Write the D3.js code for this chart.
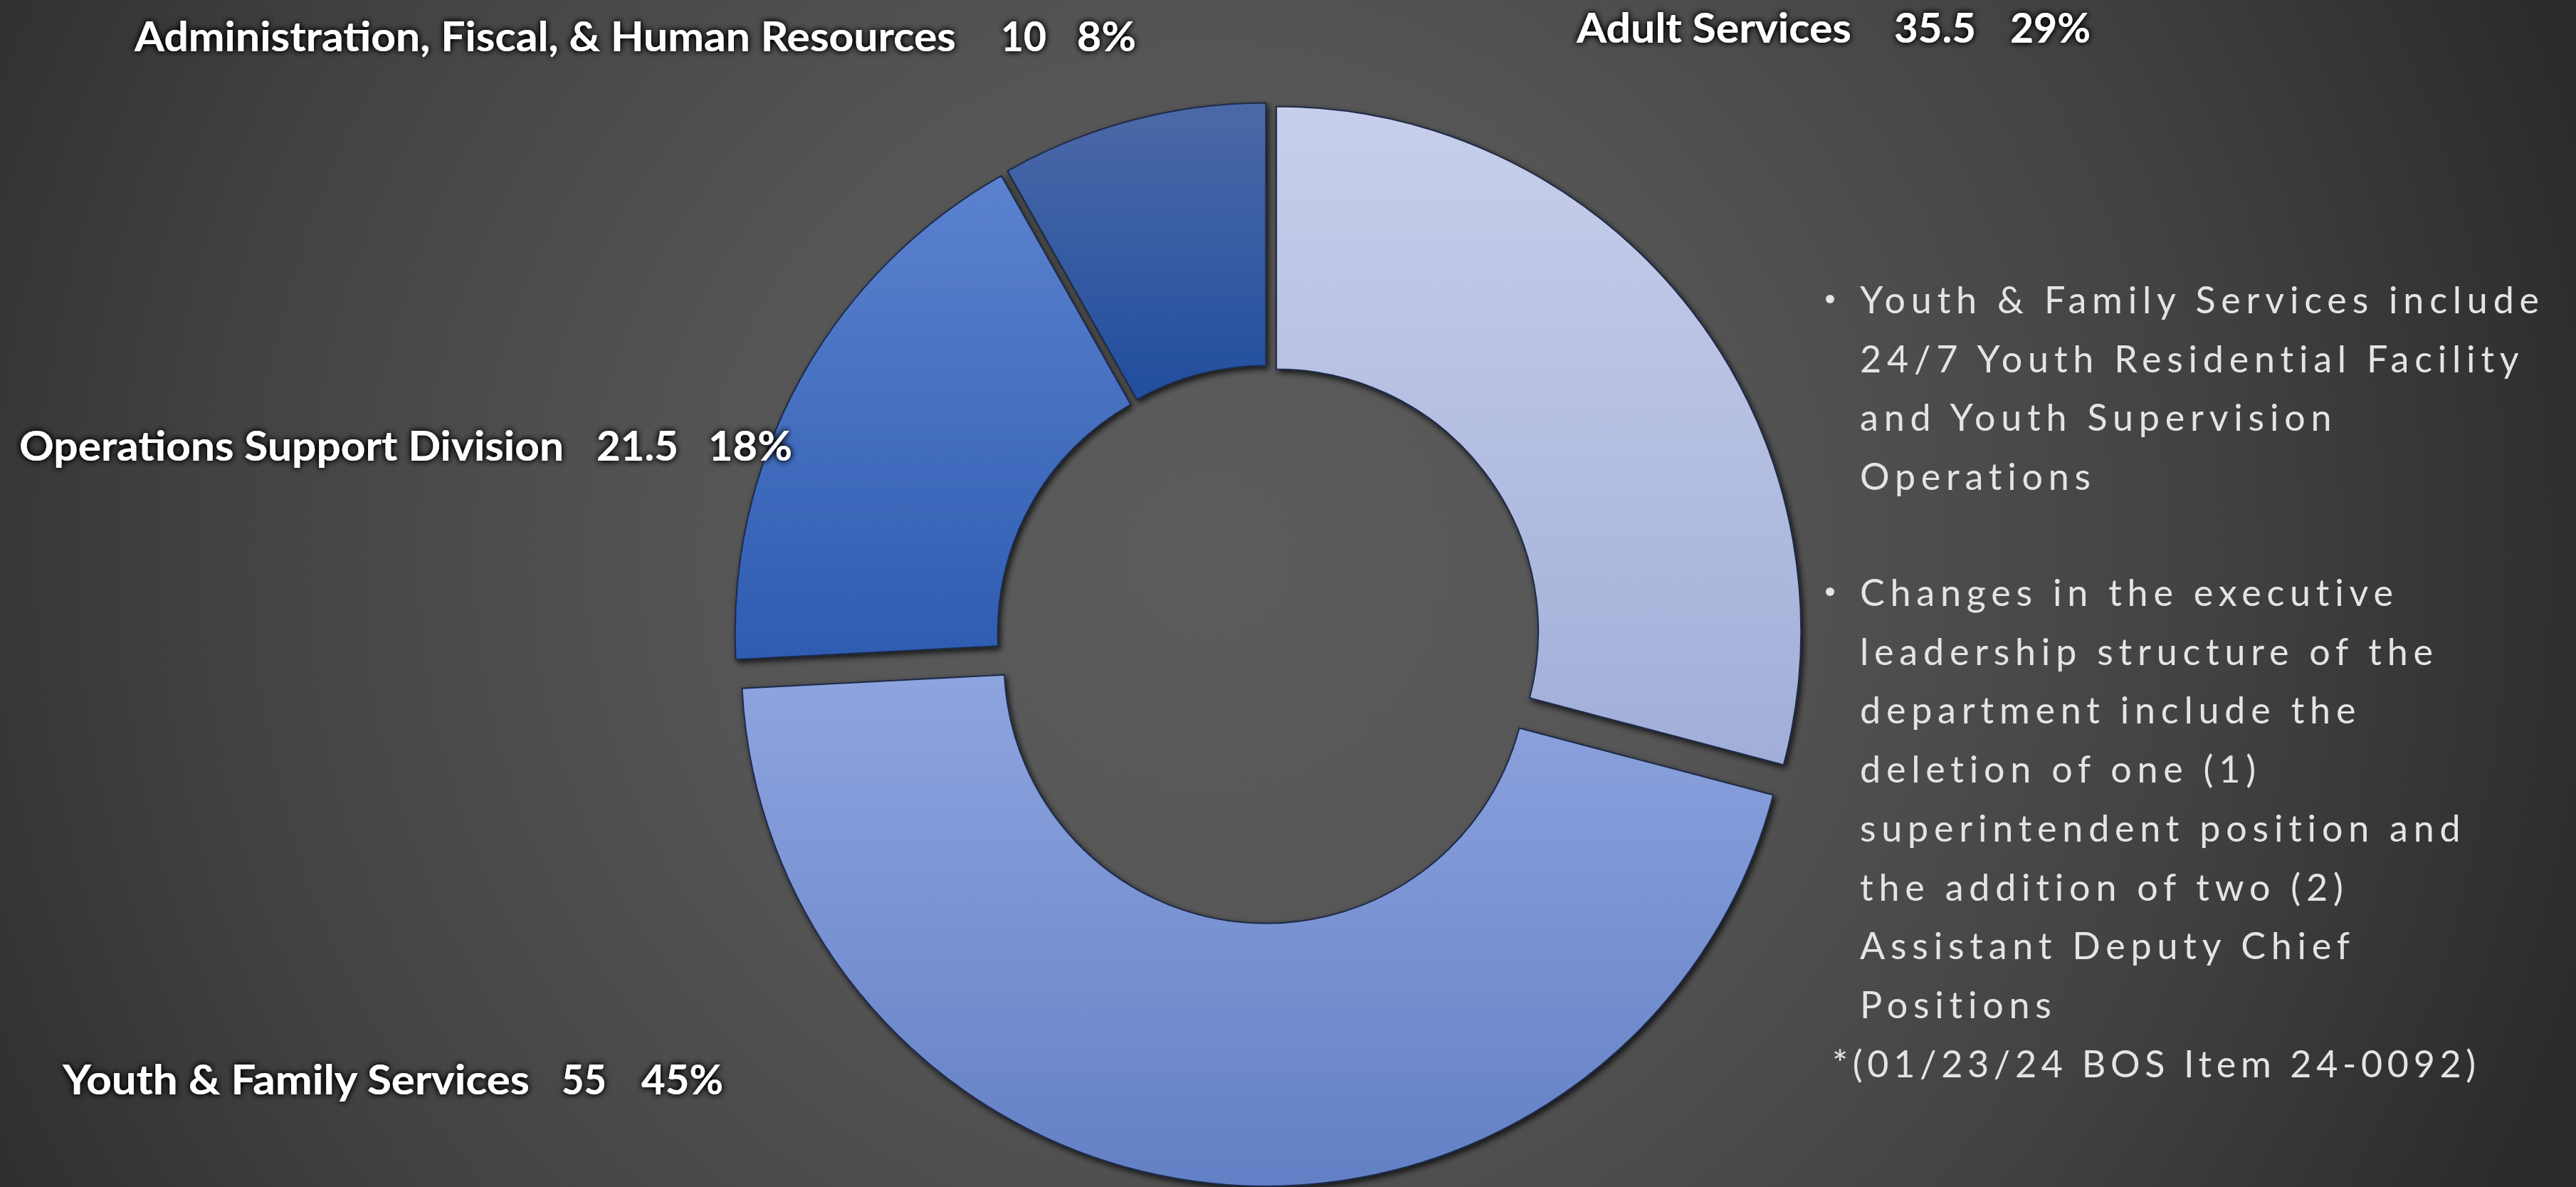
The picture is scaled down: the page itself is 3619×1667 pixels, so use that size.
<!DOCTYPE html>
<html>
<head>
<meta charset="utf-8">
<script src="https://cdn.jsdelivr.net/npm/d3@7"></script>
<style>
  html, body { margin: 0; padding: 0; background: #3a3a3a; }
  svg { display: block; }
</style>
</head>
<body>
<svg id="chart" width="3619" height="1667"></svg>
<script>
// ---------------- DATA ----------------
const categories = ["Adult Services", "Youth & Family Services", "Operations Support Division", "Administration, Fiscal, & Human Resources"];
const values = [35.5, 55, 21.5, 10];
const percentLabels = ["29%", "45%", "18%", "8%"];
const valueLabels = ["35.5", "55", "21.5", "10"];
const notesBullet1 = ["Youth & Family Services include", "24/7 Youth Residential Facility", "and Youth Supervision", "Operations"];
const notesBullet2 = ["Changes in the executive", "leadership structure of the", "department include the", "deletion of one (1)", "superintendent position and", "the addition of two (2)", "Assistant Deputy Chief", "Positions"];
const footnote = "*(01/23/24 BOS Item 24-0092)";

// ---------------- STYLE / LAYOUT ----------------
const W = 3619, H = 1667;
const cx = 1782, cy = 895, outerR = 737, innerR = 368;
const explodeDefault = 14;
const explodeBy = { "Youth & Family Services": 34 };
const sliceGradients = [
  ["#c8cfeb", "#a1aed8"],
  ["#8ea4df", "#6380c5"],
  ["#5c82cf", "#2e5cb1"],
  ["#4c69a7", "#214e9e"]
];
// label layout: [nameStart, nameEnd, valueStart, valueEnd, pctStart, pctEnd, baseline]
const labelLayout = {
  "Adult Services": [2215, 2601, 2661, 2776, 2824, 2937, 60],
  "Youth & Family Services": [88, 744, 789, 852, 901, 1016, 1537],
  "Operations Support Division": [27, 792, 838, 953, 995, 1113, 647],
  "Administration, Fiscal, & Human Resources": [189, 1343, 1406, 1470, 1513, 1596, 72]
};

const svg = d3.select("#chart");
const defs = svg.append("defs");

// background gradient
const bg = defs.append("radialGradient").attr("id", "bg")
  .attr("gradientUnits", "userSpaceOnUse")
  .attr("cx", 1700).attr("cy", 780).attr("r", 2000);
[[0, "#5c5c5c"], [0.35, "#555555"], [0.7, "#424242"], [1, "#2c2c2c"]].forEach(s =>
  bg.append("stop").attr("offset", s[0]).attr("stop-color", s[1]));
svg.append("rect").attr("width", W).attr("height", H).attr("fill", "url(#bg)");

// slice gradients
sliceGradients.forEach((g, i) => {
  const lg = defs.append("linearGradient").attr("id", "sg" + i)
    .attr("x1", 0).attr("y1", 0).attr("x2", 0).attr("y2", 1);
  lg.append("stop").attr("offset", 0).attr("stop-color", g[0]);
  lg.append("stop").attr("offset", 1).attr("stop-color", g[1]);
});

// shadow filter for slices
const sh = defs.append("filter").attr("id", "sliceShadow")
  .attr("x", "-10%").attr("y", "-10%").attr("width", "120%").attr("height", "120%");
sh.append("feGaussianBlur").attr("in", "SourceAlpha").attr("stdDeviation", 4).attr("result", "b");
sh.append("feOffset").attr("in", "b").attr("dx", 3).attr("dy", 4).attr("result", "o");
sh.append("feComponentTransfer").attr("in", "o").attr("result", "o2")
  .append("feFuncA").attr("type", "linear").attr("slope", 0.75);
const shm = sh.append("feMerge");
shm.append("feMergeNode").attr("in", "o2");
shm.append("feMergeNode").attr("in", "SourceGraphic");

// text halo filter
const th = defs.append("filter").attr("id", "textHalo")
  .attr("x", "-5%").attr("y", "-40%").attr("width", "110%").attr("height", "180%");
th.append("feGaussianBlur").attr("in", "SourceAlpha").attr("stdDeviation", 5).attr("result", "b");
th.append("feComponentTransfer").attr("in", "b").attr("result", "b2")
  .append("feFuncA").attr("type", "linear").attr("slope", 1.6);
const thm = th.append("feMerge");
thm.append("feMergeNode").attr("in", "b2");
thm.append("feMergeNode").attr("in", "SourceGraphic");

// ---------------- DONUT ----------------
const data = categories.map((c, i) => ({ name: c, value: values[i], idx: i }));
const pie = d3.pie().sort(null).value(d => d.value).startAngle(0).endAngle(2 * Math.PI);
const arc = d3.arc().innerRadius(innerR).outerRadius(outerR);
const arcs = pie(data);

const g = svg.append("g").attr("transform", `translate(${cx},${cy})`);
g.selectAll("path.slice").data(arcs).join("path")
  .attr("class", "slice")
  .attr("d", arc)
  .attr("transform", d => {
    const a = (d.startAngle + d.endAngle) / 2;
    const e = explodeBy[d.data.name] ?? explodeDefault;
    return `translate(${Math.sin(a) * e},${-Math.cos(a) * e})`;
  })
  .attr("fill", d => `url(#sg${d.data.idx})`)
  .attr("stroke", "#1e2b48")
  .attr("stroke-width", 2)
  .attr("filter", "url(#sliceShadow)");

// ---------------- LABELS ----------------
const lbl = svg.append("g").attr("filter", "url(#textHalo)")
  .attr("font-family", "Lato, 'Open Sans', sans-serif")
  .attr("font-weight", 700).attr("font-size", 57).attr("fill", "#ffffff");
arcs.forEach(d => {
  const L = labelLayout[d.data.name];
  const pieces = [
    [d.data.name, L[0], L[1]],
    [valueLabels[d.data.idx], L[2], L[3]],
    [percentLabels[d.data.idx], L[4], L[5]]
  ];
  pieces.forEach(p => {
    lbl.append("text")
      .attr("x", p[1]).attr("y", L[6])
      .attr("textLength", p[2] - p[1])
      .attr("lengthAdjust", "spacingAndGlyphs")
      .text(p[0]);
  });
});

// ---------------- NOTES ----------------
const notes = svg.append("g")
  .attr("font-family", "Lato, 'Open Sans', sans-serif")
  .attr("font-size", 52).attr("fill", "#e4e4e4")
  .attr("letter-spacing", 7.8);
const textX = 2613, lineH = 82.7;
function block(lines, y0) {
  lines.forEach((t, i) => {
    notes.append("text").attr("x", textX).attr("y", y0 + i * lineH).text(t);
  });
  notes.append("circle").attr("cx", 2571).attr("cy", y0 - 20).attr("r", 6).attr("fill", "#e4e4e4");
}
block(notesBullet1, 440);
block(notesBullet2, 851);
notes.append("text").attr("x", 2574).attr("y", 1513)
  .attr("textLength", 912).attr("lengthAdjust", "spacing")
  .text(footnote);
</script>
</body>
</html>
